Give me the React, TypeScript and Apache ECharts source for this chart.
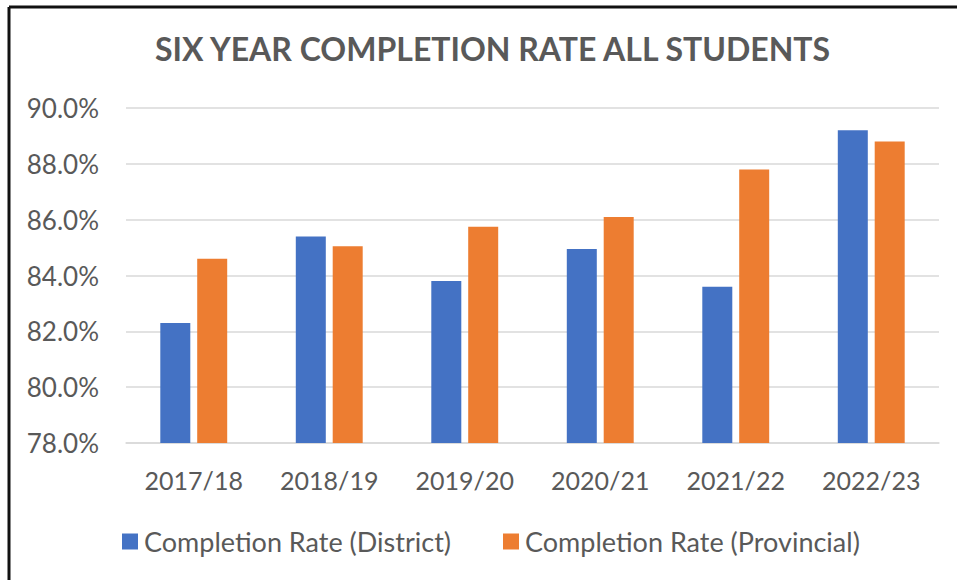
import React, { useEffect, useRef } from "react";
import * as echarts from "echarts";

const categories = ["2017/18", "2018/19", "2019/20", "2020/21", "2021/22", "2022/23"];
const districtValues = [82.3, 85.4, 83.8, 84.95, 83.6, 89.2];
const provincialValues = [84.6, 85.05, 85.75, 86.1, 87.8, 88.8];
const seriesNames = ["Completion Rate (District)", "Completion Rate (Provincial)"];
const titleText = "SIX YEAR COMPLETION RATE ALL STUDENTS";

export default function App() {
  const ref = useRef<HTMLDivElement>(null);
  useEffect(() => {
    if (!ref.current) return;
    const chart = echarts.init(ref.current, undefined, { renderer: "svg" });
    const font = "Lato, 'Noto Sans', sans-serif";
    chart.setOption({
      animation: false,
      backgroundColor: "#ffffff",
      title: {
        text: titleText,
        left: 150,
        top: 27,
        textStyle: { fontFamily: font, fontSize: 32, fontWeight: "bold", color: "#595959" },
      },
      grid: { left: 126, right: 18, top: 108, bottom: 137, containLabel: false },
      legend: {
        left: 117,
        top: 523,
        itemWidth: 16,
        itemHeight: 16,
        itemGap: 52,
        icon: "rect",
        textStyle: { fontFamily: font, fontSize: 27, color: "#595959", padding: [0, 0, 0, 1] },
        data: seriesNames,
      },
      xAxis: {
        type: "category",
        data: categories,
        axisLine: { lineStyle: { color: "#d9d9d9", width: 1.5 } },
        axisTick: { show: false },
        axisLabel: { fontFamily: font, fontSize: 25, color: "#595959", margin: 24 },
      },
      yAxis: {
        type: "value",
        min: 78,
        max: 90,
        interval: 2,
        axisLine: { show: false },
        axisTick: { show: false },
        splitLine: { lineStyle: { color: "#d9d9d9", width: 1.5 } },
        axisLabel: {
          fontFamily: font,
          fontSize: 26,
          color: "#595959",
          margin: 27,
          formatter: (v: number) => v.toFixed(1) + "%",
        },
      },
      series: [
        {
          name: seriesNames[0],
          type: "bar",
          data: districtValues,
          barWidth: 30,
          barGap: "23%",
          itemStyle: { color: "#4472C4" },
        },
        {
          name: seriesNames[1],
          type: "bar",
          data: provincialValues,
          barWidth: 30,
          barGap: "23%",
          itemStyle: { color: "#ED7D31" },
        },
      ],
      graphic: [
        { type: "line", shape: { x1: 9, y1: 7, x2: 957, y2: 7 }, style: { stroke: "#111111", lineWidth: 3 } },
        { type: "line", shape: { x1: 9, y1: 7, x2: 9, y2: 580 }, style: { stroke: "#111111", lineWidth: 3 } },
      ],
    });
    return () => chart.dispose();
  }, []);
  return (
    <div
      ref={ref}
      style={{ position: "fixed", left: 0, top: 0, width: 957, height: 580, background: "#fff" }}
    />
  );
}
